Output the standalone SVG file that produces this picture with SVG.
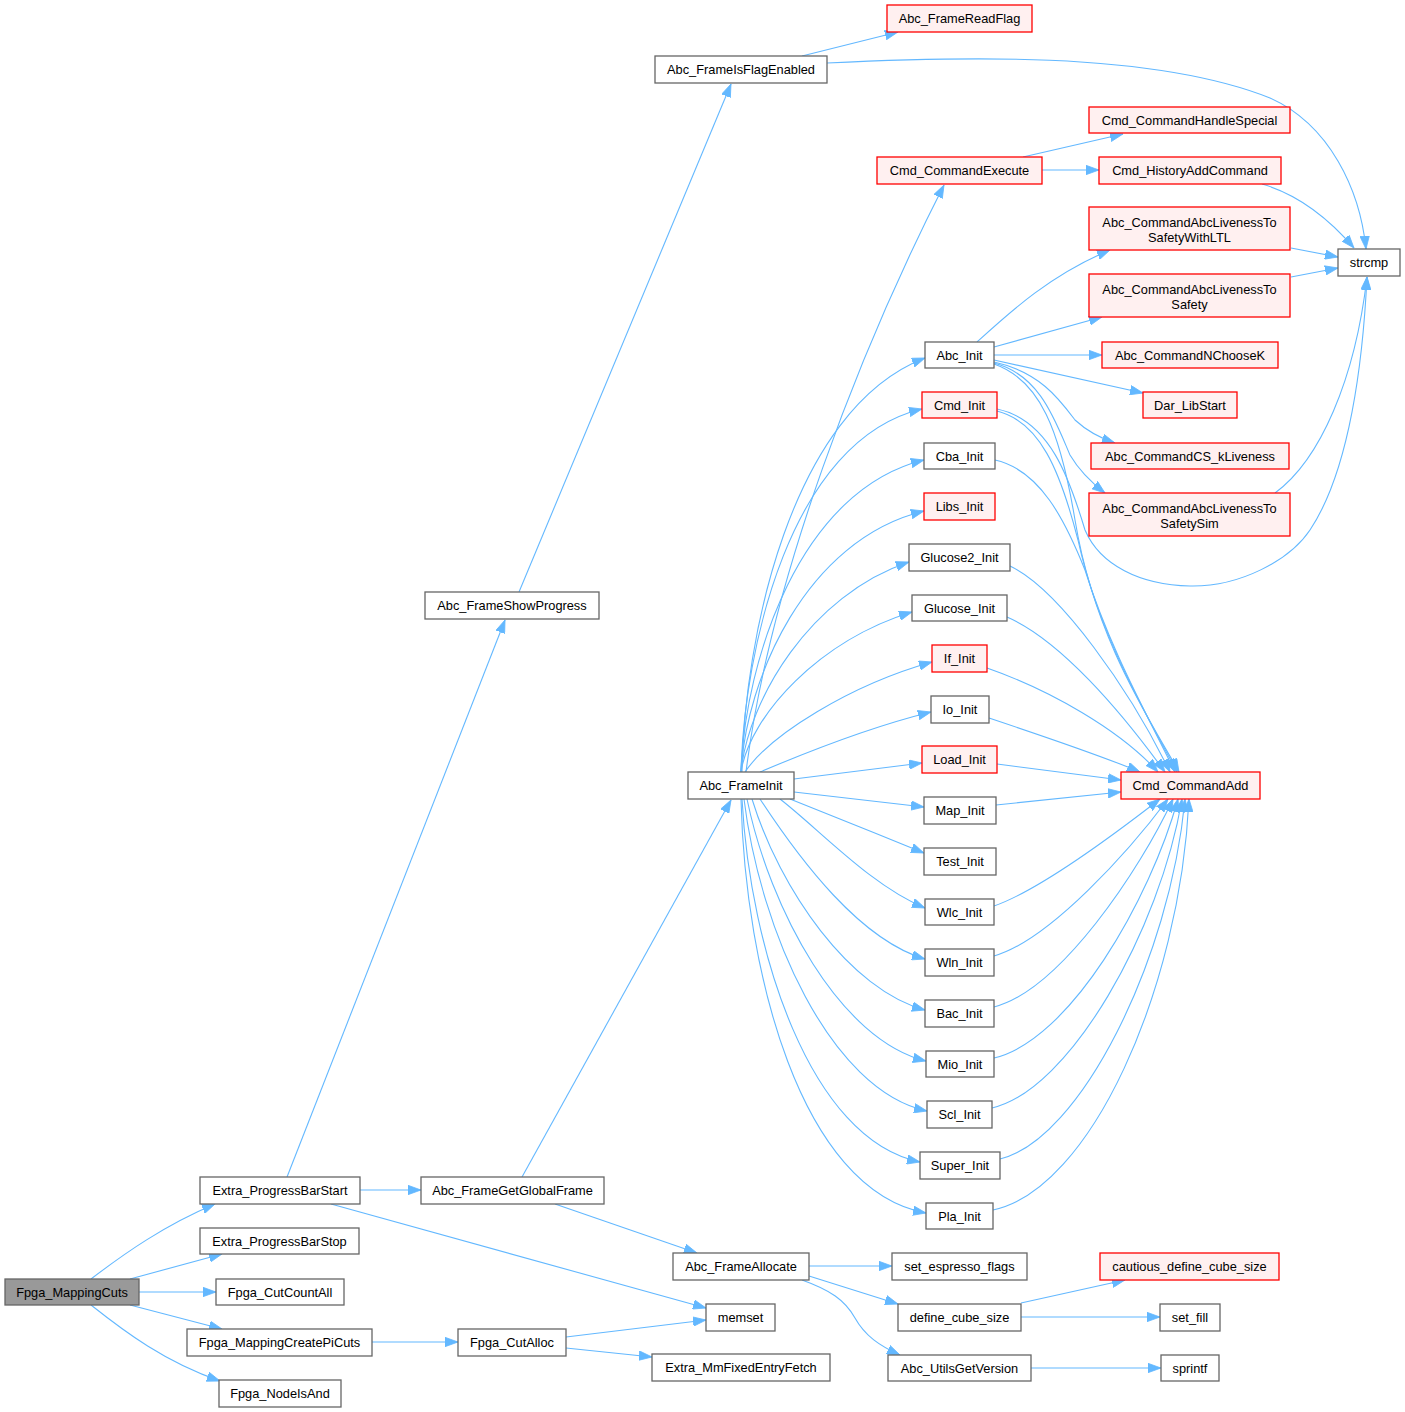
<svg xmlns="http://www.w3.org/2000/svg" width="1405" height="1412" viewBox="0 0 1405 1412">
<defs>
<style>
.n rect{fill:#ffffff;stroke:#666666;stroke-width:1.3}
.n.r rect{fill:#fff0f0;stroke:#ff0000}
.n.root rect{fill:#999999;stroke:#666666}
.n text{font-family:"Liberation Sans",Arial,sans-serif;font-size:12.8px;text-anchor:middle;fill:#000}
#edges path{fill:none;stroke:#63b8ff;stroke-width:1.1;marker-end:url(#ah)}
</style>
<marker id="ah" markerUnits="userSpaceOnUse" markerWidth="14" markerHeight="10" refX="13" refY="5" orient="auto">
<path d="M0,0.3 L13,5 L0,9.7 Z" fill="#63b8ff" stroke="#63b8ff" stroke-width="0.8"/>
</marker>
</defs>
<rect width="1405" height="1412" fill="#ffffff"/>
<g id="edges">
<path d="M91,1279 C125,1253 165,1225 215,1204"/>
<path d="M130,1279 L222,1254"/>
<path d="M139,1292 L216,1292"/>
<path d="M130,1305 L222,1329"/>
<path d="M91,1305 C125,1332 165,1362 220,1381"/>
<path d="M360,1190 L421,1190"/>
<path d="M287,1177 L505,620"/>
<path d="M331,1204 L706,1308"/>
<path d="M519,592 L731,84"/>
<path d="M802,56 L898,32"/>
<path d="M827,63 C950,57 1150,50 1270,98 C1330,125 1360,190 1366,249"/>
<path d="M522,1177 L731,800"/>
<path d="M555,1204 L697,1253"/>
<path d="M372,1342 L458,1342"/>
<path d="M566,1337 L706,1320"/>
<path d="M566,1348 L652,1357"/>
<path d="M809,1266 L892,1266"/>
<path d="M809,1276 L898,1304"/>
<path d="M802,1280 C830,1290 845,1300 855,1318 C865,1336 880,1346 900,1355"/>
<path d="M1021,1303 L1125,1280"/>
<path d="M1021,1317 L1160,1317"/>
<path d="M1031,1368 L1161,1368"/>
<path d="M746,772 C770,580 860,350 944,185"/>
<path d="M742,772 C744,640 790,410 925,358"/>
<path d="M741,772 C744,650 790,440 922,409"/>
<path d="M741,772 C745,660 800,490 924,460"/>
<path d="M741,772 C746,680 805,540 924,511"/>
<path d="M741,772 C748,700 810,595 909,562"/>
<path d="M741,772 C750,715 820,640 912,612"/>
<path d="M745,772 C770,735 850,685 932,662"/>
<path d="M760,772 C800,755 870,727 931,712"/>
<path d="M794,779 L922,763"/>
<path d="M794,792 L924,807"/>
<path d="M790,799 C830,815 880,835 924,853"/>
<path d="M780,799 C820,830 870,885 925,908"/>
<path d="M760,799 C800,860 860,940 925,959"/>
<path d="M752,799 C780,890 850,990 925,1010"/>
<path d="M747,799 C770,910 840,1040 926,1061"/>
<path d="M744,799 C760,930 830,1090 927,1111"/>
<path d="M742,799 C750,950 810,1140 920,1162"/>
<path d="M741,799 C745,970 800,1190 926,1213"/>
<path d="M1023,157 L1123,134"/>
<path d="M1042,170 L1099,170"/>
<path d="M1262,184 C1300,195 1330,220 1354,248"/>
<path d="M1291,248 L1338,257"/>
<path d="M1291,277 L1338,268"/>
<path d="M977,342 C1010,312 1050,275 1110,250"/>
<path d="M994,347 L1102,317"/>
<path d="M994,355 L1102,355"/>
<path d="M994,360 L1143,393"/>
<path d="M994,362 C1040,372 1060,400 1075,420 C1088,432 1100,438 1115,443"/>
<path d="M994,363 C1040,375 1055,420 1070,455 C1080,472 1092,483 1105,493"/>
<path d="M994,364 C1040,380 1060,430 1075,520 C1095,640 1150,720 1179,772"/>
<path d="M997,409 C1050,420 1070,480 1085,530 C1100,565 1140,585 1190,586 C1240,587 1290,560 1310,530 C1350,470 1363,360 1367,277"/>
<path d="M997,411 C1040,422 1060,470 1078,540 C1100,640 1150,720 1177,772"/>
<path d="M1275,493 C1320,460 1355,380 1367,277"/>
<path d="M995,460 C1040,470 1065,520 1085,570 C1110,650 1150,720 1175,772"/>
<path d="M1010,566 C1060,590 1130,690 1170,772"/>
<path d="M1007,617 C1060,640 1120,710 1165,772"/>
<path d="M987,668 C1050,690 1120,730 1158,772"/>
<path d="M989,718 C1040,735 1100,755 1140,772"/>
<path d="M997,764 L1121,780"/>
<path d="M996,805 L1121,792"/>
<path d="M994,906 C1040,890 1120,830 1160,799"/>
<path d="M994,956 C1050,940 1130,850 1168,799"/>
<path d="M994,1007 C1060,990 1140,870 1173,799"/>
<path d="M994,1058 C1070,1040 1150,900 1178,799"/>
<path d="M992,1108 C1070,1090 1160,930 1182,799"/>
<path d="M1000,1159 C1080,1140 1170,960 1185,799"/>
<path d="M993,1210 C1090,1190 1180,990 1189,799"/>
</g>
<g id="n1" class="n root"><rect x="5" y="1279" width="134" height="26"/><text x="72" y="1296.5">Fpga_MappingCuts</text></g>
<g id="n2" class="n"><rect x="200" y="1177" width="160" height="27"/><text x="280" y="1195">Extra_ProgressBarStart</text></g>
<g id="n3" class="n"><rect x="200" y="1228" width="159" height="26"/><text x="279.5" y="1245.5">Extra_ProgressBarStop</text></g>
<g id="n4" class="n"><rect x="216" y="1279" width="128" height="26"/><text x="280" y="1296.5">Fpga_CutCountAll</text></g>
<g id="n5" class="n"><rect x="187" y="1329" width="185" height="27"/><text x="279.5" y="1347">Fpga_MappingCreatePiCuts</text></g>
<g id="n6" class="n"><rect x="219" y="1380" width="122" height="27"/><text x="280" y="1398">Fpga_NodeIsAnd</text></g>
<g id="n7" class="n"><rect x="421" y="1177" width="183" height="27"/><text x="512.5" y="1195">Abc_FrameGetGlobalFrame</text></g>
<g id="n8" class="n"><rect x="425" y="592" width="174" height="27"/><text x="512" y="610">Abc_FrameShowProgress</text></g>
<g id="n9" class="n"><rect x="706" y="1304" width="69" height="27"/><text x="740.5" y="1322">memset</text></g>
<g id="n10" class="n"><rect x="458" y="1329" width="108" height="27"/><text x="512" y="1347">Fpga_CutAlloc</text></g>
<g id="n11" class="n"><rect x="652" y="1354" width="178" height="27"/><text x="741" y="1372">Extra_MmFixedEntryFetch</text></g>
<g id="n12" class="n"><rect x="673" y="1253" width="136" height="27"/><text x="741" y="1271">Abc_FrameAllocate</text></g>
<g id="n13" class="n"><rect x="688" y="772" width="106" height="27"/><text x="741" y="790">Abc_FrameInit</text></g>
<g id="n14" class="n"><rect x="655" y="56" width="172" height="27"/><text x="741" y="74">Abc_FrameIsFlagEnabled</text></g>
<g id="n15" class="n r"><rect x="887" y="5" width="145" height="27"/><text x="959.5" y="23">Abc_FrameReadFlag</text></g>
<g id="n16" class="n"><rect x="1338" y="249" width="62" height="27"/><text x="1369" y="267">strcmp</text></g>
<g id="n17" class="n r"><rect x="877" y="157" width="165" height="27"/><text x="959.5" y="175">Cmd_CommandExecute</text></g>
<g id="n18" class="n r"><rect x="1089" y="107" width="201" height="26"/><text x="1189.5" y="124.5">Cmd_CommandHandleSpecial</text></g>
<g id="n19" class="n r"><rect x="1099" y="157" width="182" height="27"/><text x="1190" y="175">Cmd_HistoryAddCommand</text></g>
<g id="n20" class="n r"><rect x="1089" y="207" width="201" height="43"/><text x="1189.5" y="226.5">Abc_CommandAbcLivenessTo</text><text x="1189.5" y="242">SafetyWithLTL</text></g>
<g id="n21" class="n r"><rect x="1089" y="274" width="201" height="43"/><text x="1189.5" y="293.5">Abc_CommandAbcLivenessTo</text><text x="1189.5" y="309">Safety</text></g>
<g id="n22" class="n"><rect x="925" y="342" width="69" height="26"/><text x="959.5" y="359.5">Abc_Init</text></g>
<g id="n23" class="n r"><rect x="1102" y="342" width="176" height="26"/><text x="1190" y="359.5">Abc_CommandNChooseK</text></g>
<g id="n24" class="n r"><rect x="922" y="392" width="75" height="26"/><text x="959.5" y="409.5">Cmd_Init</text></g>
<g id="n25" class="n r"><rect x="1143" y="392" width="94" height="26"/><text x="1190" y="409.5">Dar_LibStart</text></g>
<g id="n26" class="n"><rect x="924" y="443" width="71" height="26"/><text x="959.5" y="460.5">Cba_Init</text></g>
<g id="n27" class="n r"><rect x="1091" y="443" width="198" height="26"/><text x="1190" y="460.5">Abc_CommandCS_kLiveness</text></g>
<g id="n28" class="n r"><rect x="924" y="493" width="71" height="27"/><text x="959.5" y="511">Libs_Init</text></g>
<g id="n29" class="n r"><rect x="1089" y="493" width="201" height="43"/><text x="1189.5" y="512.5">Abc_CommandAbcLivenessTo</text><text x="1189.5" y="528">SafetySim</text></g>
<g id="n30" class="n"><rect x="909" y="544" width="101" height="27"/><text x="959.5" y="562">Glucose2_Init</text></g>
<g id="n31" class="n"><rect x="912" y="595" width="95" height="26"/><text x="959.5" y="612.5">Glucose_Init</text></g>
<g id="n32" class="n r"><rect x="932" y="645" width="55" height="27"/><text x="959.5" y="663">If_Init</text></g>
<g id="n33" class="n"><rect x="931" y="696" width="58" height="27"/><text x="960" y="714">Io_Init</text></g>
<g id="n34" class="n r"><rect x="922" y="746" width="75" height="27"/><text x="959.5" y="764">Load_Init</text></g>
<g id="n35" class="n"><rect x="924" y="797" width="72" height="27"/><text x="960" y="815">Map_Init</text></g>
<g id="n36" class="n"><rect x="924" y="848" width="72" height="27"/><text x="960" y="866">Test_Init</text></g>
<g id="n37" class="n"><rect x="925" y="899" width="69" height="26"/><text x="959.5" y="916.5">Wlc_Init</text></g>
<g id="n38" class="n"><rect x="925" y="949" width="69" height="27"/><text x="959.5" y="967">Wln_Init</text></g>
<g id="n39" class="n"><rect x="925" y="1000" width="69" height="27"/><text x="959.5" y="1018">Bac_Init</text></g>
<g id="n40" class="n"><rect x="926" y="1051" width="68" height="26"/><text x="960" y="1068.5">Mio_Init</text></g>
<g id="n41" class="n"><rect x="927" y="1101" width="65" height="27"/><text x="959.5" y="1119">Scl_Init</text></g>
<g id="n42" class="n"><rect x="920" y="1152" width="80" height="27"/><text x="960" y="1170">Super_Init</text></g>
<g id="n43" class="n"><rect x="926" y="1203" width="67" height="26"/><text x="959.5" y="1220.5">Pla_Init</text></g>
<g id="n44" class="n r"><rect x="1121" y="772" width="139" height="27"/><text x="1190.5" y="790">Cmd_CommandAdd</text></g>
<g id="n45" class="n"><rect x="892" y="1253" width="135" height="27"/><text x="959.5" y="1271">set_espresso_flags</text></g>
<g id="n46" class="n"><rect x="898" y="1304" width="123" height="27"/><text x="959.5" y="1322">define_cube_size</text></g>
<g id="n47" class="n"><rect x="888" y="1355" width="143" height="26"/><text x="959.5" y="1372.5">Abc_UtilsGetVersion</text></g>
<g id="n48" class="n r"><rect x="1100" y="1253" width="179" height="27"/><text x="1189.5" y="1271">cautious_define_cube_size</text></g>
<g id="n49" class="n"><rect x="1160" y="1304" width="60" height="27"/><text x="1190" y="1322">set_fill</text></g>
<g id="n50" class="n"><rect x="1161" y="1355" width="58" height="26"/><text x="1190" y="1372.5">sprintf</text></g>
</svg>
